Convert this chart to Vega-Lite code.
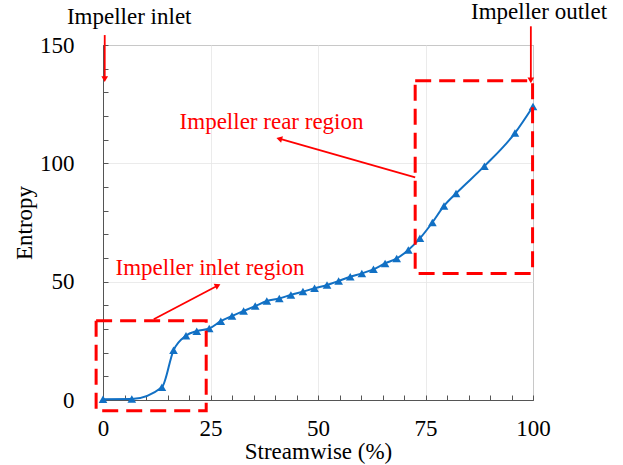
{
  "$schema": "https://vega.github.io/schema/vega-lite/v6.json",
  "width": 430,
  "height": 355,
  "autosize": {"type": "none"},
  "padding": {"left": 103, "top": 45, "right": 90, "bottom": 65},
  "config": {
    "font": "Times New Roman, Liberation Serif, serif",
    "view": {"stroke": "#555555", "strokeWidth": 1},
    "axis": {
      "labelFont": "Times New Roman, Liberation Serif, serif",
      "labelFontSize": 23,
      "labelColor": "#000000",
      "labelOverlap": false,
      "labelFlush": false,
      "labelBound": false,
      "titleFont": "Times New Roman, Liberation Serif, serif",
      "titleFontSize": 23,
      "titleFontWeight": "normal",
      "titleColor": "#000000",
      "domainColor": "#555555",
      "tickColor": "#555555",
      "tickSize": -5,
      "gridColor": "#e6e6e6",
      "gridWidth": 0.8
    }
  },
  "resolve": {"axis": {"x": "independent", "y": "independent"}},
  "datasets": {
    "entropy": [
      {"streamwise": 0, "entropy": 0.3},
      {"streamwise": 6.7, "entropy": 0.4},
      {"streamwise": 13.7, "entropy": 5.4},
      {"streamwise": 16.4, "entropy": 21},
      {"streamwise": 19.3, "entropy": 27.2},
      {"streamwise": 21.8, "entropy": 29.1},
      {"streamwise": 24.7, "entropy": 30.2},
      {"streamwise": 27.4, "entropy": 33.3},
      {"streamwise": 30.0, "entropy": 35.5},
      {"streamwise": 32.7, "entropy": 37.6},
      {"streamwise": 35.4, "entropy": 39.7},
      {"streamwise": 38.1, "entropy": 41.8},
      {"streamwise": 41.0, "entropy": 42.9},
      {"streamwise": 43.7, "entropy": 44.4},
      {"streamwise": 46.5, "entropy": 45.8},
      {"streamwise": 49.2, "entropy": 47.2},
      {"streamwise": 52.1, "entropy": 48.6},
      {"streamwise": 54.8, "entropy": 50.3},
      {"streamwise": 57.5, "entropy": 52.1},
      {"streamwise": 60.2, "entropy": 53.5},
      {"streamwise": 62.9, "entropy": 55.2},
      {"streamwise": 65.6, "entropy": 57.7},
      {"streamwise": 68.3, "entropy": 59.8},
      {"streamwise": 71.0, "entropy": 63.4},
      {"streamwise": 73.7, "entropy": 68.3},
      {"streamwise": 76.6, "entropy": 75},
      {"streamwise": 79.3, "entropy": 82},
      {"streamwise": 82.1, "entropy": 87.3},
      {"streamwise": 88.7, "entropy": 98.8},
      {"streamwise": 95.8, "entropy": 112.8},
      {"streamwise": 100, "entropy": 124}
    ],
    "regions": [
      {"name": "inlet region", "x": -1.6, "x2": 24.0, "y": 33.5, "y2": -4.5},
      {"name": "rear region", "x": 72.6, "x2": 99.9, "y": 134.9, "y2": 53.5}
    ],
    "arrows": [
      {"name": "rear", "x": 72.6, "y": 94.1, "x2": 41.2, "y2": 110.3},
      {"name": "inletRegion", "x": 11.8, "y": 34.1, "x2": 26.5, "y2": 48.2},
      {"name": "inlet", "x": 0.4, "y": 154.2, "x2": 0.4, "y2": 136},
      {"name": "outlet", "x": 99.5, "y": 157.9, "x2": 99.5, "y2": 135.5}
    ],
    "notes": [
      {"text": "Impeller inlet", "x": 6.1, "y": 161.9, "tone": "black"},
      {"text": "Impeller outlet", "x": 101.4, "y": 164.0, "tone": "black"},
      {"text": "Impeller rear region", "x": 39.2, "y": 117.6, "tone": "red"},
      {"text": "Impeller inlet region", "x": 24.9, "y": 55.6, "tone": "red"}
    ]
  },
  "layer": [
    {
      "data": {"name": "entropy"},
      "mark": {"type": "line", "interpolate": "monotone", "color": "#1170C4", "strokeWidth": 2},
      "encoding": {
        "x": {
          "field": "streamwise",
          "type": "quantitative",
          "scale": {"domain": [0, 100], "nice": false},
          "axis": {
            "orient": "bottom",
            "title": "Streamwise (%)",
            "values": [0, 25, 50, 75, 100],
            "ticks": false,
            "labelPadding": 17,
            "titlePadding": 0,
            "grid": true
          }
        },
        "y": {
          "field": "entropy",
          "type": "quantitative",
          "scale": {"domain": [0, 150], "nice": false},
          "axis": {
            "orient": "left",
            "title": "Entropy",
            "values": [0, 50, 100, 150],
            "ticks": false,
            "labelPadding": 29,
            "titlePadding": 3,
            "grid": true
          }
        }
      }
    },
    {
      "data": {"name": "entropy"},
      "mark": {"type": "point", "shape": "triangle-up", "filled": true, "opacity": 1, "size": 75, "color": "#1170C4"},
      "encoding": {
        "x": {
          "field": "streamwise",
          "type": "quantitative",
          "axis": {
            "orient": "bottom",
            "title": null,
            "values": [0, 5, 10, 15, 20, 25, 30, 35, 40, 45, 50, 55, 60, 65, 70, 75, 80, 85, 90, 95, 100],
            "labels": false,
            "grid": false
          }
        },
        "y": {
          "field": "entropy",
          "type": "quantitative",
          "axis": {
            "orient": "left",
            "title": null,
            "values": [0, 10, 20, 30, 40, 50, 60, 70, 80, 90, 100, 110, 120, 130, 140, 150],
            "labels": false,
            "grid": false
          }
        }
      }
    },
    {
      "data": {"name": "regions"},
      "mark": {"type": "rect", "fill": null, "fillOpacity": 0, "stroke": "#FF0000", "strokeWidth": 3, "strokeDash": [16, 8], "clip": false},
      "encoding": {
        "x": {"field": "x", "type": "quantitative", "axis": null},
        "x2": {"field": "x2"},
        "y": {"field": "y", "type": "quantitative", "axis": null},
        "y2": {"field": "y2"}
      }
    },
    {
      "data": {"name": "arrows"},
      "mark": {"type": "rule", "color": "#FF0000", "strokeWidth": 1.8, "clip": false},
      "encoding": {
        "x": {"field": "x", "type": "quantitative", "axis": null},
        "y": {"field": "y", "type": "quantitative", "axis": null},
        "x2": {"field": "x2"},
        "y2": {"field": "y2"}
      }
    },
    {
      "data": {"name": "arrows"},
      "transform": [{"filter": "datum.name === 'rear'"}],
      "mark": {"type": "point", "shape": "triangle", "filled": true, "opacity": 1, "size": 45, "color": "#FF0000", "angle": 285.7, "clip": false},
      "encoding": {
        "x": {"field": "x2", "type": "quantitative", "axis": null},
        "y": {"field": "y2", "type": "quantitative", "axis": null}
      }
    },
    {
      "data": {"name": "arrows"},
      "transform": [{"filter": "datum.name === 'inletRegion'"}],
      "mark": {"type": "point", "shape": "triangle", "filled": true, "opacity": 1, "size": 45, "color": "#FF0000", "angle": 62.7, "clip": false},
      "encoding": {
        "x": {"field": "x2", "type": "quantitative", "axis": null},
        "y": {"field": "y2", "type": "quantitative", "axis": null}
      }
    },
    {
      "data": {"name": "arrows"},
      "transform": [{"filter": "datum.name === 'inlet' || datum.name === 'outlet'"}],
      "mark": {"type": "point", "shape": "triangle", "filled": true, "opacity": 1, "size": 45, "color": "#FF0000", "angle": 180, "clip": false},
      "encoding": {
        "x": {"field": "x2", "type": "quantitative", "axis": null},
        "y": {"field": "y2", "type": "quantitative", "axis": null}
      }
    },
    {
      "data": {"name": "notes"},
      "transform": [{"filter": "datum.tone === 'black'"}],
      "mark": {"type": "text", "font": "Times New Roman, Liberation Serif, serif", "fontSize": 23, "color": "#000000", "baseline": "middle", "align": "center", "clip": false},
      "encoding": {
        "x": {"field": "x", "type": "quantitative", "axis": null},
        "y": {"field": "y", "type": "quantitative", "axis": null},
        "text": {"field": "text"}
      }
    },
    {
      "data": {"name": "notes"},
      "transform": [{"filter": "datum.tone === 'red'"}],
      "mark": {"type": "text", "font": "Times New Roman, Liberation Serif, serif", "fontSize": 23, "color": "#FF0000", "baseline": "middle", "align": "center", "clip": false},
      "encoding": {
        "x": {"field": "x", "type": "quantitative", "axis": null},
        "y": {"field": "y", "type": "quantitative", "axis": null},
        "text": {"field": "text"}
      }
    }
  ]
}
